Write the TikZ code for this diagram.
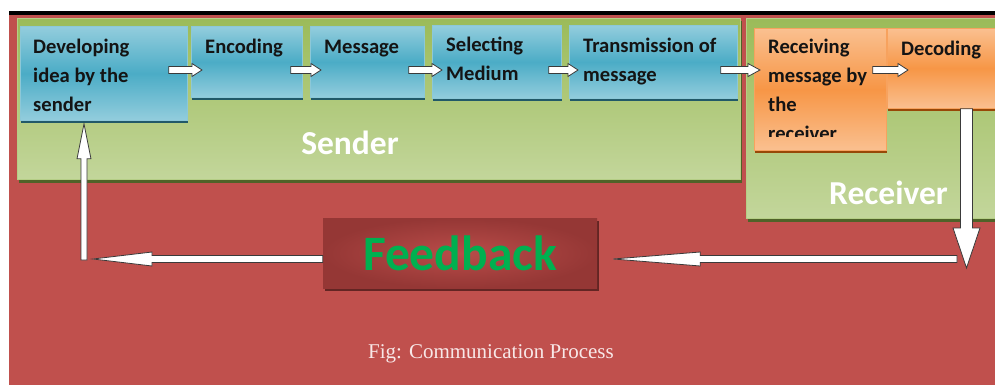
\documentclass[tikz,border=0pt]{standalone}
\usepackage{fontspec}
\setmainfont{Carlito}
\newfontfamily\capfont{Liberation Serif}
\usetikzlibrary{calc,shadows}
\definecolor{bgred}{HTML}{C0504D}
\definecolor{gtop}{HTML}{9BBB59}
\definecolor{gbot}{HTML}{C3D69B}
\definecolor{panelline}{HTML}{B5CE86}
\definecolor{olivedark}{HTML}{4F6228}
\definecolor{bluelight}{HTML}{93CDDD}
\definecolor{bluemid}{HTML}{4BACC6}
\definecolor{blueline}{HTML}{8CC8D8}
\definecolor{bluedark}{HTML}{215968}
\definecolor{orlight}{HTML}{FAC090}
\definecolor{ormid}{HTML}{F79646}
\definecolor{orline}{HTML}{F7A25E}
\definecolor{ordark}{HTML}{984807}
\definecolor{fbdark}{HTML}{953735}
\definecolor{fbshadow}{HTML}{632523}
\definecolor{fbgreen}{HTML}{00B050}
\definecolor{captext}{HTML}{F8E8E8}
\definecolor{labtext}{HTML}{141414}
\definecolor{arrline}{HTML}{3A3A3A}
\newcommand{\blockarr}[5]{%
  \coordinate (bh) at ($(#2)!#5!(#1)$);
  \draw[arrowbody] ($(#1)!#3!90:(#2)$) -- ($(bh)!#3!90:(#2)$) -- ($(bh)!#4!90:(#2)$) -- (#2)
    -- ($(bh)!#4!-90:(#2)$) -- ($(bh)!#3!-90:(#2)$) -- ($(#1)!#3!-90:(#2)$) -- cycle;
}
\begin{document}
\begin{tikzpicture}[x=1pt,y=-1pt,
  panel/.style={draw=panelline, line width=1pt, top color=gtop, bottom color=gbot,
    general shadow={fill=olivedark, shadow xshift=1pt, shadow yshift=-3pt},
    anchor=north west, inner sep=0pt},
  bluebox/.style={draw=blueline, line width=0.8pt, top color=bluelight, bottom color=bluelight,
    middle color=bluemid,
    general shadow={fill=bluedark, shadow xshift=0.5pt, shadow yshift=-2.5pt},
    anchor=north west, inner sep=0pt},
  orbox/.style={draw=orline, line width=0.8pt, top color=orlight, bottom color=orlight,
    middle color=ormid,
    general shadow={fill=ordark, shadow xshift=0.5pt, shadow yshift=-2.5pt},
    anchor=north west, inner sep=0pt},
  lab/.style={anchor=north west, inner sep=0pt, align=left, text=labtext,
    font=\fontsize{20.6}{29}\selectfont\bfseries},
  big/.style={text=white, inner sep=0pt, font=\fontsize{33.5}{36}\selectfont\bfseries},
  arrowbody/.style={draw=arrline, fill=white, line width=0.8pt, line join=miter},
]
\useasboundingbox (0,0) rectangle (995,385);
\clip (0,0) rectangle (995,385);
% background
\fill[bgred] (9,15) rectangle (995,385);
\fill[black] (9,11) rectangle (995,15);
% panels
\node[panel, minimum width=723pt, minimum height=161pt] (sendp) at (17,18) {};
\node[panel, minimum width=260pt, minimum height=200pt] (recvp) at (746,18) {};
% boxes
\node[bluebox, minimum width=167pt, minimum height=94pt] (dev) at (20,26) {};
\node[bluebox, minimum width=111pt, minimum height=71pt] (enc) at (191,26) {};
\node[bluebox, minimum width=114pt, minimum height=71pt] (msg) at (310,26) {};
\node[bluebox, minimum width=129pt, minimum height=73pt] (sel) at (432,25) {};
\node[bluebox, minimum width=168pt, minimum height=73pt] (trn) at (569,25) {};
\node[orbox, minimum width=132pt, minimum height=122pt] (rcv) at (754,28) {};
\node[orbox, minimum width=120pt, minimum height=80pt] (dec) at (887,28) {};
% labels
\node[lab] (devt) at (33,38) {\vrule width0pt height15pt Developing\\idea by the\\sender};
\node[lab] (enct) at (205,38) {\vrule width0pt height15pt Encoding};
\node[lab] (msgt) at (324,38) {\vrule width0pt height15pt Message};
\node[lab] (selt) at (446,36) {\vrule width0pt height15pt Selecting\\Medium};
\node[lab] (trnt) at (583,37) {\vrule width0pt height15pt Transmission of\\message};
\begin{scope}
  \clip (rcv.north west) rectangle ($(rcv.south east)+(0,-14)$);
  \node[lab] (rcvt) at (768,38) {\vrule width0pt height15pt Receiving\\message by\\the\\receiver};
\end{scope}
\node[lab] (dect) at (901,40) {\vrule width0pt height15pt Decoding};
\node[big, anchor=base] (sendt) at (350,154) {Sender};
\node[big, anchor=base west] (recvt) at (829,204) {Receiver};
% feedback
\node[minimum width=274pt, minimum height=70pt, inner sep=0pt,
  inner color=bgred!85!fbdark, outer color=fbdark,
  general shadow={fill=fbshadow, shadow xshift=1.5pt, shadow yshift=-3pt},
  text=fbgreen, font=\fontsize{49.5}{52}\selectfont\bfseries] (fb) at (460,253) {Feedback};
% caption
\node[anchor=base west, inner sep=0pt, text=captext, font=\capfont\fontsize{21}{24}\selectfont]
  (cap) at (368,358) {Fig: Communication Process};
% small arrows
\coordinate (a1s) at ($(dev.north east)+(-19,44)$);
\coordinate (a1e) at ($(enc.north west)+(11,44)$);
\coordinate (a2s) at ($(enc.north east)+(-12,44)$);
\coordinate (a2e) at ($(msg.north west)+(11,44)$);
\coordinate (a3s) at ($(msg.north east)+(-16,44)$);
\coordinate (a3e) at ($(sel.north west)+(10,45)$);
\coordinate (a4s) at ($(sel.north east)+(-13,45)$);
\coordinate (a4e) at ($(trn.north west)+(9,45)$);
\coordinate (a5s) at ($(trn.north east)+(-17,45)$);
\coordinate (a5e) at ($(rcv.north west)+(6,42)$);
\coordinate (a6s) at ($(rcv.north east)+(-14,42)$);
\coordinate (a6e) at ($(dec.north west)+(21,42)$);
\blockarr{a1s}{a1e}{3.5pt}{6.5pt}{10pt}
\blockarr{a2s}{a2e}{3.5pt}{6.5pt}{10pt}
\blockarr{a3s}{a3e}{3.5pt}{6.5pt}{10pt}
\blockarr{a4s}{a4e}{3.5pt}{6.5pt}{10pt}
\blockarr{a5s}{a5e}{3.5pt}{6.5pt}{12pt}
\blockarr{a6s}{a6e}{3.5pt}{6.5pt}{10pt}
% feedback loop
\coordinate (dtop) at ($(dec.south west)+(79.5,0)$);
\coordinate (dtip) at (966.5,268);
\coordinate (hstart) at (957,259);
\coordinate (rtip) at ($(fb.east)+(16,6)$);
\coordinate (lstart) at ($(fb.west)+(0,6)$);
\coordinate (ltip) at (93,259);
\coordinate (lcorner) at (84,260);
\coordinate (utip) at ($(dev.south west)+(64,3)$);
\blockarr{hstart}{rtip}{3.5pt}{7pt}{87pt}
\blockarr{dtop}{dtip}{6pt}{13.5pt}{40pt}
\blockarr{lstart}{ltip}{3.5pt}{7pt}{59pt}
\blockarr{lcorner}{utip}{3pt}{7pt}{35pt}
\end{tikzpicture}
\end{document}
